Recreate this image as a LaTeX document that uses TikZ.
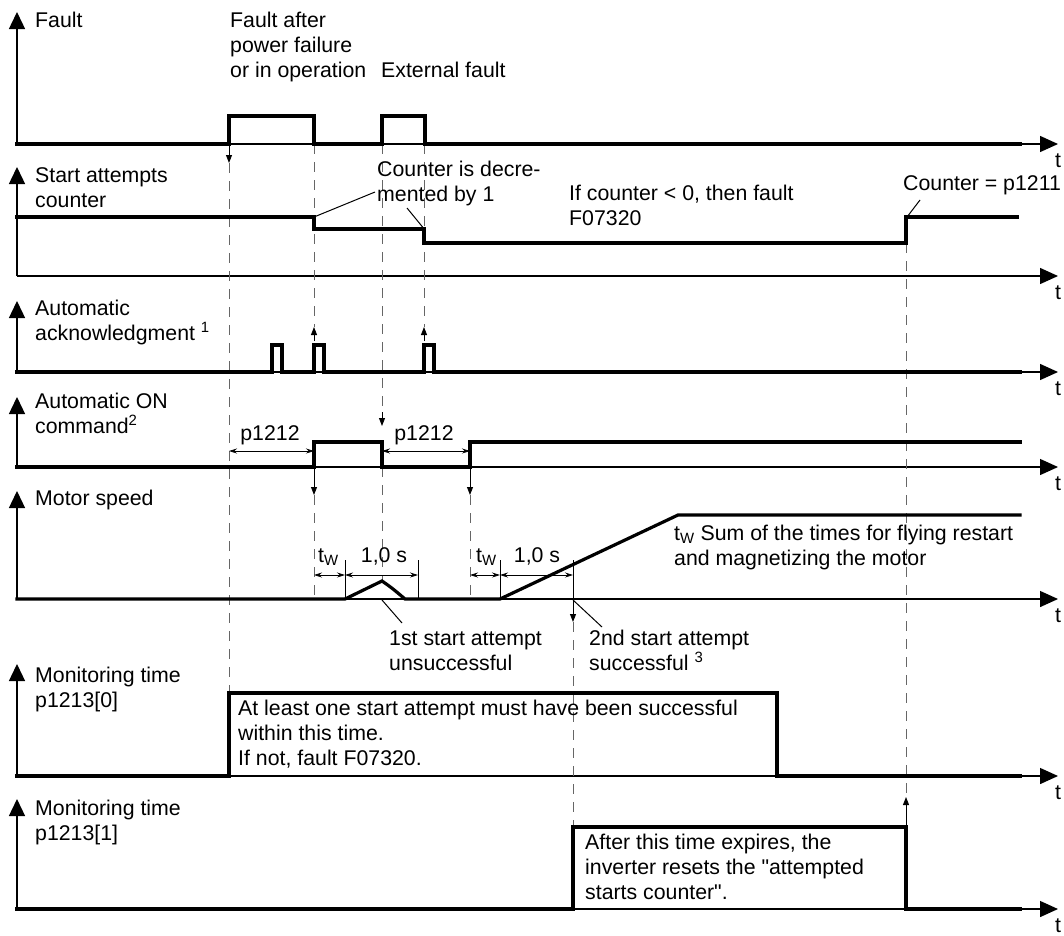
\documentclass[tikz,border=0pt]{standalone}
\usepackage{fontspec}
\setmainfont{Liberation Sans}[Ligatures=TeXOff]
\usetikzlibrary{arrows.meta}

\begin{document}
\begin{tikzpicture}[
  x=1pt, y=-1pt,
  txt/.style={font=\fontsize{21.3}{25}\selectfont, inner sep=0pt, anchor=base west, align=left},
  ctxt/.style={txt, anchor=base},
  yaxis/.style={line width=1.4pt, -{Triangle[length=17pt,width=16pt]}},
  xaxis/.style={line width=1.4pt, -{Triangle[length=18pt,width=16pt]}},
  sig/.style={line width=3.2pt, line join=miter, line cap=rect},
  guide/.style={line width=0.9pt, draw=black!60, dash pattern=on 10pt off 8pt},
  tipline/.style={line width=0.9pt, -{Triangle[length=8pt,width=6pt]}},
  dim/.style={line width=0.8pt, {Stealth[length=8pt,width=5pt]}-{Stealth[length=8pt,width=5pt]}},
  ext/.style={line width=0.8pt},
  leader/.style={line width=1pt}
]
\useasboundingbox (0,0) rectangle (1064,935);
\def\xL{17}
\def\xEnd{1058}
\def\xSig{1020}
\def\yFault{144}
\def\yCount{276}
\def\yAck{372}
\def\yOn{467}
\def\ySpeed{599}
\def\yMonA{776}
\def\yMonB{909}
\foreach \y in {\yFault,\yCount,\yAck,\yOn,\ySpeed,\yMonA,\yMonB} {
  \draw[xaxis] (\xL,\y) -- (\xEnd,\y);
  \node[txt] at (1055,\y+23) {t};
}
\draw[yaxis] (\xL,\yFault) -- (\xL,12);
\draw[yaxis] (\xL,\yCount) -- (\xL,167);
\draw[yaxis] (\xL,\yAck) -- (\xL,301);
\draw[yaxis] (\xL,\yOn) -- (\xL,397);
\draw[yaxis] (\xL,\ySpeed) -- (\xL,491);
\draw[yaxis] (\xL,\yMonA) -- (\xL,664);
\draw[yaxis] (\xL,\yMonB) -- (\xL,799);
\node[txt] (lblFault) at (35,27) {Fault};
\node[txt] (lblCount) at (35,207) {Start attempts\\counter};
\node[txt] (lblAck) at (35,340) {Automatic\\acknowledgment \textsuperscript{1}};
\node[txt] (lblOn) at (35,433) {Automatic ON\\command\textsuperscript{2}};
\node[txt] (lblSpeed) at (35,505) {Motor speed};
\node[txt] (lblMonA) at (35,707) {Monitoring time\\p1213[0]};
\node[txt] (lblMonB) at (35,840) {Monitoring time\\p1213[1]};
\draw[guide] (229,163) -- (229,693);
\draw[tipline] (229,\yFault) -- (229,163);
\draw[guide] (314,\yFault) -- (314,327);
\draw[tipline] (314,341) -- (314,327);
\draw[tipline] (314,\yOn) -- (314,495);
\draw[guide] (314,495) -- (314,\ySpeed);
\draw[guide] (382,\yFault) -- (382,418);
\draw[tipline] (382,412) -- (382,426);
\draw[guide] (382,\yOn) -- (382,581);
\draw[guide] (424,\yFault) -- (424,327);
\draw[tipline] (424,341) -- (424,327);
\draw[tipline] (470,\yOn) -- (470,495);
\draw[guide] (470,495) -- (470,\ySpeed);
\draw[ext] (573,560) -- (573,\ySpeed);
\draw[tipline] (573,\ySpeed) -- (573,622);
\draw[guide] (573,622) -- (573,827);
\draw[guide] (906,243) -- (906,797);
\draw[tipline] (906,827) -- (906,797);
\draw[sig] (\xL,\yFault) -- (229,\yFault) -- (229,116) -- (314,116) -- (314,\yFault) -- (382,\yFault) -- (382,116) -- (425,116) -- (425,\yFault) -- (\xSig,\yFault);
\draw[sig] (\xL,217) -- (314,217) -- (314,229) -- (424,229) -- (424,243) -- (906,243) -- (906,217) -- (1017,217);
\draw[sig] (\xL,\yAck) -- (272,\yAck) -- (272,345) -- (282,345) -- (282,\yAck) -- (314,\yAck) -- (314,345) -- (324,345) -- (324,\yAck) -- (424,\yAck) -- (424,345) -- (434,345) -- (434,\yAck) -- (\xSig,\yAck);
\draw[sig] (\xL,\yOn) -- (314,\yOn) -- (314,442) -- (382,442) -- (382,\yOn) -- (470,\yOn) -- (470,442) -- (\xSig,442);
\draw[sig] (\xL,\ySpeed) -- (345,\ySpeed) -- (382,581) .. controls (392,588) .. (405,\ySpeed) -- (500,\ySpeed) -- (678,515) -- (\xSig,515);
\draw[sig] (\xL,\yMonA) -- (229,\yMonA) -- (229,693) -- (777,693) -- (777,\yMonA) -- (\xSig,\yMonA);
\draw[sig] (\xL,\yMonB) -- (573,\yMonB) -- (573,827) -- (906,827) -- (906,\yMonB) -- (\xSig,\yMonB);
\draw[dim] (229,451) -- (314,451);
\draw[dim] (382,451) -- (470,451);
\draw[ext] (345,560) -- (345,\ySpeed);
\draw[ext] (418,560) -- (418,\ySpeed);
\draw[ext] (500,560) -- (500,\ySpeed);
\draw[dim] (314,575) -- (345,575);
\draw[dim] (345,575) -- (418,575);
\draw[dim] (470,575) -- (500,575);
\draw[dim] (500,575) -- (573,575);
\node[txt] (txtFaultOp) at (230,77) {Fault after\\power failure\\or in operation};
\node[txt] (txtExt) at (381,77) {External fault};
\node[txt] (txtDecr) at (377,201) {Counter is decre-\\mented by 1};
\node[txt] (txtNeg) at (569,225) {If counter < 0, then fault\\F07320};
\node[txt] (txtReset) at (903,190) {Counter = p1211};
\node[ctxt] (txtDelayA) at (270,440) {p1212};
\node[ctxt] (txtDelayB) at (424,440) {p1212};
\node[txt] (txtWaitA) at (318,562) {t\textsubscript{W}};
\node[ctxt] (txtOneA) at (384,562) {1,0 s};
\node[txt] (txtWaitB) at (476,562) {t\textsubscript{W}};
\node[ctxt] (txtOneB) at (537,562) {1,0 s};
\node[txt] (txtSum) at (674,565) {t\textsubscript{W} Sum of the times for flying restart\\and magnetizing the motor};
\node[txt] (txtFirst) at (389,670) {1st start attempt\\unsuccessful};
\node[txt] (txtSecond) at (589,670) {2nd start attempt\\successful \textsuperscript{3}};
\node[txt] (txtMonA) at (238,765) {At least one start attempt must have been successful\\within this time.\\If not, fault F07320.};
\node[txt] (txtMonB) at (585,899) {After this time expires, the\\inverter resets the "attempted\\starts counter".};
\draw[leader] (314,217) -- (375,192);
\draw[leader] (407,208) -- (425,230);
\draw[leader] (907,217) -- (920,200);
\draw[leader] (382,600) -- (402,623);
\draw[leader] (573,600) -- (602,627);
\end{tikzpicture}
\end{document}
